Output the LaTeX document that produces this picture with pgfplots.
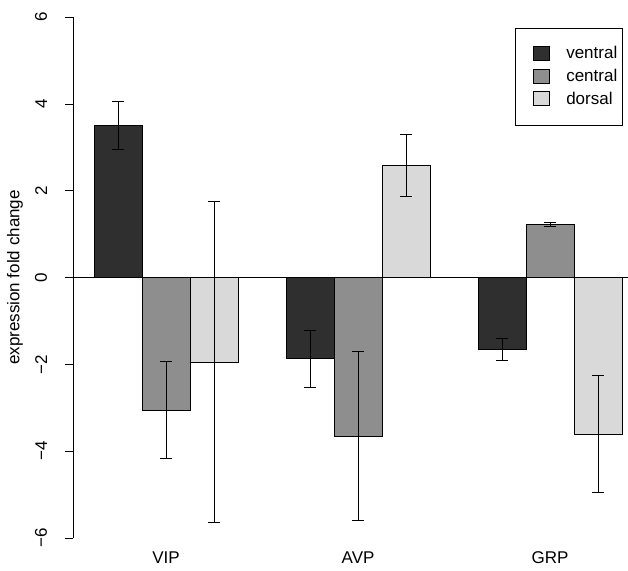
\documentclass[border=0pt]{standalone}
\usepackage{fontspec}
\setmainfont{Liberation Sans}
\usepackage{pgfplots}
\pgfplotsset{compat=1.18}

\definecolor{cVentral}{HTML}{2F2F2F}
\definecolor{cCentral}{HTML}{8E8E8E}
\definecolor{cDorsal}{HTML}{D9D9D9}

\begin{document}
\fontsize{17}{20}\selectfont
\begin{tikzpicture}
\begin{axis}[
    scale only axis,
    width=555pt, height=521pt,
    xmin=0.56, xmax=12.125,
    ymin=-6, ymax=6,
    clip=false,
    axis line style={draw=none},
    ytick={-6,-4,-2,0,2,4,6},
    yticklabels={−6,−4,−2,0,2,4,6},
    ytick pos=left,
    tick align=outside,
    major tick length=8pt,
    tick style={black, line width=0.6pt},
    yticklabel style={rotate=90, anchor=south, font=\fontsize{17}{20}\selectfont},
    yticklabel shift=12pt,
    xtick={2.5,6.5,10.5},
    xticklabels={VIP,AVP,GRP},
    xtick style={draw=none},
    xticklabel style={anchor=base, yshift=-17pt, font=\fontsize{17}{20}\selectfont},
    every axis y label/.style={at={(rel axis cs:0,0.5)}, xshift=-58pt, rotate=90, anchor=center, font=\fontsize{17}{20}\selectfont},
    ylabel={expression fold change},
    legend style={at={(axis cs:9.77,5.74)}, anchor=north west, draw=black, line width=0.6pt,
        font=\fontsize{17}{20}\selectfont, inner xsep=3pt, inner ysep=16pt, row sep=4pt,
        /tikz/every even column/.append style={column sep=0pt}},
    legend cell align=left,
    ybar, bar width=1, bar shift=0pt,
    error bars/y dir=both, error bars/y explicit,
    error bars/error mark options={rotate=90, mark size=6pt, line width=0.7pt, black},
    error bars/error bar style={line width=0.7pt, black},
]
\addplot[fill=cVentral, draw=black, line width=0.6pt,
    legend image code/.code={\draw[fill=cVentral, draw=black, line width=0.6pt] (15pt,-6pt) rectangle (31pt,8pt); \path[draw=none, fill=none] (0pt,0pt) (46pt,0pt);}]
    coordinates {(1.5,3.5) +- (0,0.55) (5.5,-1.87) +- (0,0.66) (9.5,-1.65) +- (0,0.25)};
\addlegendentry{ventral}
\addplot[fill=cCentral, draw=black, line width=0.6pt,
    legend image code/.code={\draw[fill=cCentral, draw=black, line width=0.6pt] (15pt,-6pt) rectangle (31pt,8pt); \path[draw=none, fill=none] (0pt,0pt) (46pt,0pt);}]
    coordinates {(2.5,-3.05) +- (0,1.12) (6.5,-3.65) +- (0,1.95) (10.5,1.22) +- (0,0.05)};
\addlegendentry{central}
\addplot[fill=cDorsal, draw=black, line width=0.6pt,
    legend image code/.code={\draw[fill=cDorsal, draw=black, line width=0.6pt] (15pt,-6pt) rectangle (31pt,8pt); \path[draw=none, fill=none] (0pt,0pt) (46pt,0pt);}]
    coordinates {(3.5,-1.95) +- (0,3.7) (7.5,2.58) +- (0,0.71) (11.5,-3.6) +- (0,1.35)};
\addlegendentry{dorsal}
\addplot[sharp plot, black, line width=0.6pt, forget plot, no marks]
    coordinates {(0.56,0) (12.125,0)};
\draw[black, line width=0.6pt] (axis cs:0.56,-6) -- (axis cs:0.56,6);
\coordinate (bl) at (rel axis cs:0,0);
\coordinate (tr) at (rel axis cs:1,1);
\end{axis}
\pgfresetboundingbox
\path ([shift={(-73pt,-32pt)}]bl) rectangle ([shift={(0pt,17pt)}]tr);
\end{tikzpicture}
\end{document}
